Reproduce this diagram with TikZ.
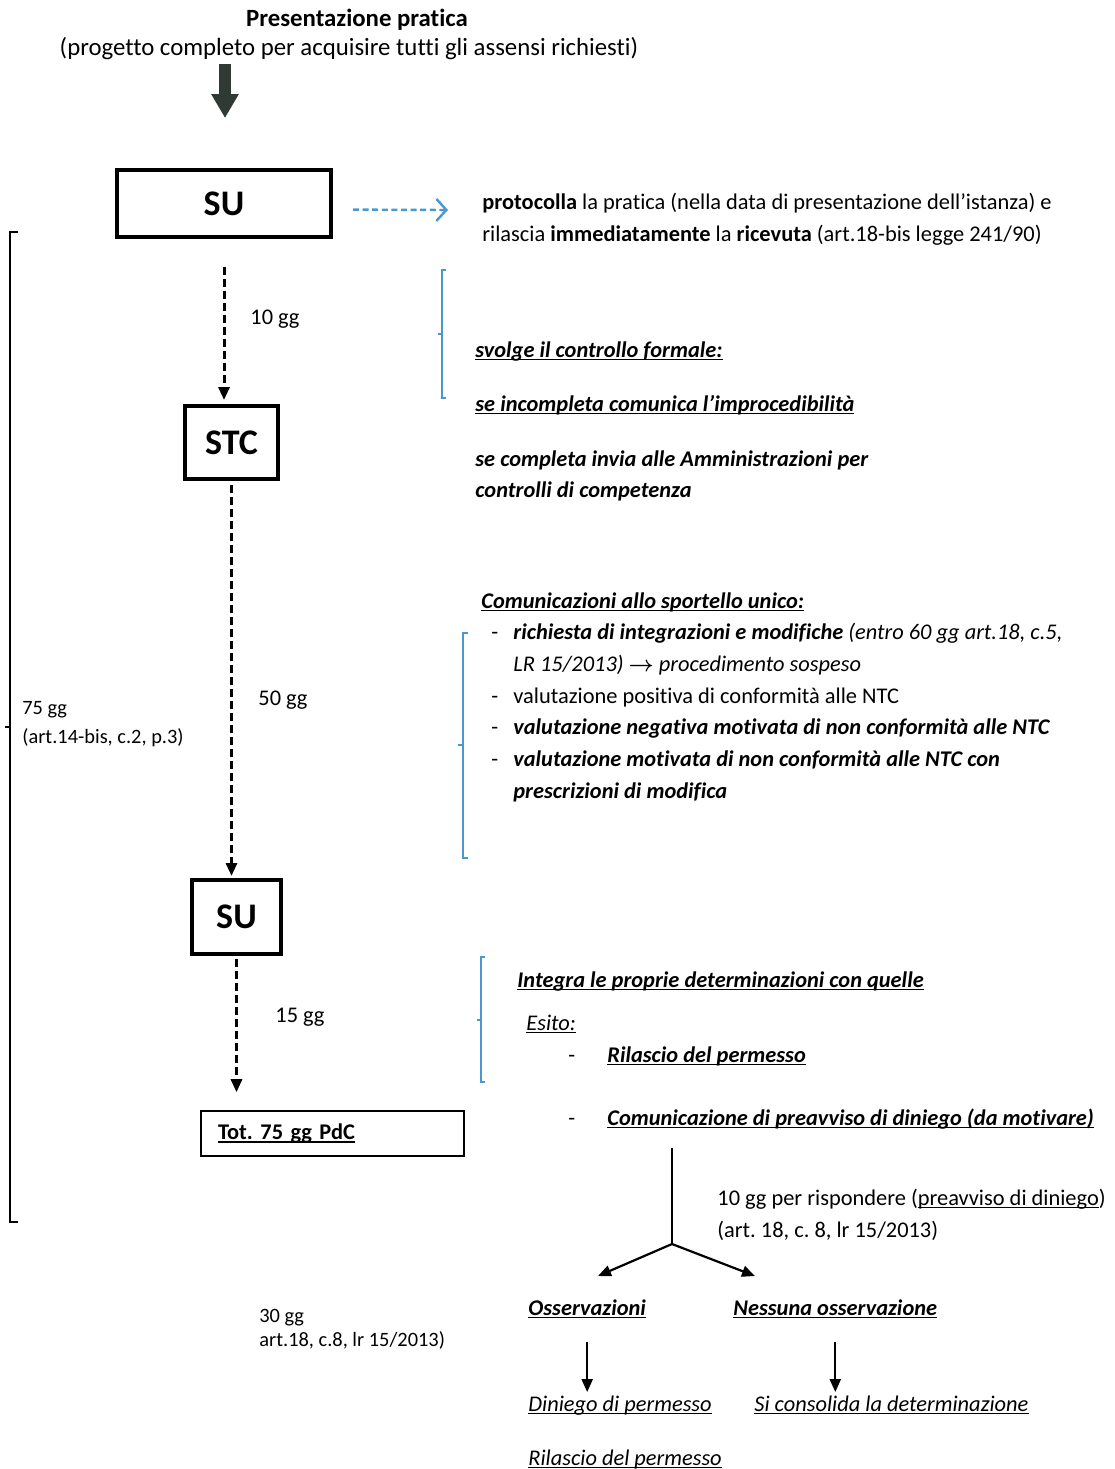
\documentclass[tikz,border=0pt]{standalone}
\usepackage{fontspec}
\setmainfont{Carlito}[Ligatures=NoCommon]
\usetikzlibrary{arrows.meta, calc}
\frenchspacing

\definecolor{verdescuro}{HTML}{2E3A33}
\definecolor{azzurro}{HTML}{4A98CF}

\newsavebox\sottbox
\newcommand{\sott}[1]{\sbox\sottbox{#1}\rlap{\rule[-1.7pt]{\wd\sottbox}{0.8pt}}\usebox\sottbox}
\newcommand{\grcor}[1]{\textbf{\textit{#1}}}

\begin{document}
\begin{tikzpicture}[x=0.5pt, y=-0.5pt,
    testo/.style={anchor=base west, inner sep=0pt, font=\fontsize{11.2}{16}\selectfont},
    piccolo/.style={testo, font=\fontsize{10.2}{14}\selectfont},
    titolo/.style={anchor=base, inner sep=0pt, font=\fontsize{12.4}{18}\selectfont},
    ufficio/.style={draw, line width=2pt, inner sep=0pt, font=\fontsize{18}{20}\selectfont\bfseries},
    freccia/.style={-{Triangle[length=6.5pt, width=5.5pt]}, line width=1.1pt},
    tratteggio/.style={freccia, line width=1.5pt, dash pattern=on 4pt off 2pt},
    graffa/.style={azzurro, line width=0.6pt}]
  \useasboundingbox (0,0) rectangle (1115,1469);

  \node[titolo, font=\fontsize{12.4}{18}\selectfont\bfseries] (titolo) at (357,26) {Presentazione pratica};
  \node[titolo] (sottotitolo) at (349,55) {(progetto completo per acquisire tutti gli assensi richiesti)};
  \coordinate (pa) at (225,64);
  \coordinate (pb) at (225,118);
  \draw[verdescuro, line width=6pt, -{Triangle[length=12pt, width=13pt]}] (pa) -- (pb);

  \node[ufficio, minimum width=107pt, minimum height=33.5pt] (su) at (224,203.5) {SU};
  \node[ufficio, minimum width=46.5pt, minimum height=36.5pt] (stc) at (231.5,442.5) {STC};
  \node[ufficio, minimum width=44.5pt, minimum height=37pt] (sudue) at (236.5,917) {SU};
  \node[draw, line width=0.8pt, minimum height=22.5pt, text width=114.5pt, inner xsep=8.5pt, align=left,
        font=\fontsize{11.2}{16}\selectfont\bfseries] (tot) at (332.5,1133.5) {\sott{Tot. 75 gg PdC}};

  \coordinate (prot) at (448,210);
  \draw[azzurro, line width=1.2pt, dash pattern=on 3pt off 1.8pt, -{Straight Barb[length=5pt, width=11pt]}, shorten <=10pt] ([yshift=-3pt]su.east) -- (prot);
  \node[testo] (protA) at (482,209) {\textbf{protocolla} la pratica (nella data di presentazione dell’istanza) e};
  \node[testo] (protB) at (482,241) {rilascia \textbf{immediatamente} la \textbf{ricevuta} (art.18-bis legge 241/90)};

  \draw[tratteggio, shorten <=14pt, shorten >=2pt] (su.south) -- (su.south |- stc.north);
  \draw[tratteggio, shorten <=2pt, shorten >=1pt] (stc.south) -- (stc.south |- sudue.north);
  \draw[tratteggio, shorten <=1.5pt, shorten >=9pt] (sudue.south) -- (sudue.south |- tot.north);
  \node[testo] (dieci) at (250,324) {10 gg};
  \node[testo] (cinquanta) at (258,705) {50 gg};
  \node[testo] (quindici) at (275,1022) {15 gg};

  \draw[line width=1pt] (18,232) -- (10,232) -- (10,1222) -- (18,1222);
  \draw[line width=1pt] (10,727) -- (5,727);
  \node[piccolo] (totA) at (22,714) {75 gg};
  \node[piccolo] (totB) at (22,743) {(art.14-bis, c.2, p.3)};

  \draw[graffa] (446,270) -- (442,270) -- (442,398) -- (446,398);
  \draw[graffa] (442,334) -- (438,334);
  \node[testo] (svolge) at (475,357) {\sott{\grcor{svolge il controllo formale:}}};
  \node[testo] (incompleta) at (475,411) {\sott{\grcor{se incompleta comunica l’improcedibilità}}};
  \node[testo] (completaA) at (475,466) {\grcor{se completa invia alle Amministrazioni per}};
  \node[testo] (completaB) at (475,497) {\grcor{controlli di competenza}};

  \node[testo] (comunic) at (481,608) {\sott{\grcor{Comunicazioni allo sportello unico:}}};
  \draw[graffa] (468,633) -- (463,633) -- (463,858) -- (468,858);
  \draw[graffa] (463,745) -- (458,745);
  \foreach \y [count=\i] in {639,703,734,766} {
    \node[testo] (trattino\i) at (491,\y) {-};
  }
  \node[testo] (richiestaA) at (513,639) {\grcor{richiesta di integrazioni e modifiche} \textit{(entro 60 gg art.18, c.5,}};
  \node[testo] (richiestaB) at (513,671) {\textit{LR 15/2013) {\boldmath$\rightarrow$} procedimento sospeso}};
  \node[testo] (positiva) at (513,703) {valutazione positiva di conformità alle NTC};
  \node[testo] (negativa) at (513,734) {\grcor{valutazione negativa motivata di non conformità alle NTC}};
  \node[testo] (prescrA) at (513,766) {\grcor{valutazione motivata di non conformità alle NTC con}};
  \node[testo] (prescrB) at (513,798) {\grcor{prescrizioni di modifica}};

  \draw[graffa] (485,957) -- (481,957) -- (481,1082) -- (485,1082);
  \draw[graffa] (481,1020) -- (477,1020);
  \node[testo] (integra) at (517,987) {\sott{\grcor{Integra le proprie determinazioni con quelle}}};
  \node[testo] (esito) at (526,1030) {\sott{\textit{Esito:}}};
  \node[testo] (trattino5) at (568,1062) {-};
  \node[testo] (rilascio) at (607,1062) {\sott{\grcor{Rilascio del permesso}}};
  \node[testo] (trattino6) at (568,1125) {-};
  \node[testo] (preavviso) at (607,1125) {\sott{\grcor{Comunicazione di preavviso di diniego (da motivare)}}};

  \coordinate (cima) at (672,1148);
  \coordinate (bivio) at (672,1244);
  \coordinate (sx) at (598,1276);
  \coordinate (dx) at (755,1276);
  \draw[line width=1.1pt] (cima) -- (bivio);
  \draw[freccia] (bivio) -- (sx);
  \draw[freccia] (bivio) -- (dx);
  \node[testo] (rispA) at (717,1205) {10 gg per rispondere (\sott{preavviso di diniego})};
  \node[testo] (rispB) at (717,1237) {(art. 18, c. 8, lr 15/2013)};

  \node[piccolo] (trentaA) at (259,1322) {30 gg};
  \node[piccolo] (trentaB) at (259,1346) {art.18, c.8, lr 15/2013)};

  \node[testo] (oss) at (528,1315) {\sott{\grcor{Osservazioni}}};
  \node[testo] (nessuna) at (733,1315) {\sott{\grcor{Nessuna osservazione}}};
  \node[testo] (diniego) at (528,1411) {\sott{\textit{Diniego di permesso}}};
  \node[testo] (consolida) at (754,1411) {\sott{\textit{Si consolida la determinazione}}};
  \node[testo] (rilasciodue) at (528,1465) {\sott{\textit{Rilascio del permesso}}};
  \draw[freccia, shorten <=11.5pt, shorten >=1.5pt] (oss.south) -- (oss.south |- diniego.north);
  \draw[freccia, shorten <=11.5pt, shorten >=1.5pt] (nessuna.south) -- (nessuna.south |- consolida.north);
\end{tikzpicture}
\end{document}
